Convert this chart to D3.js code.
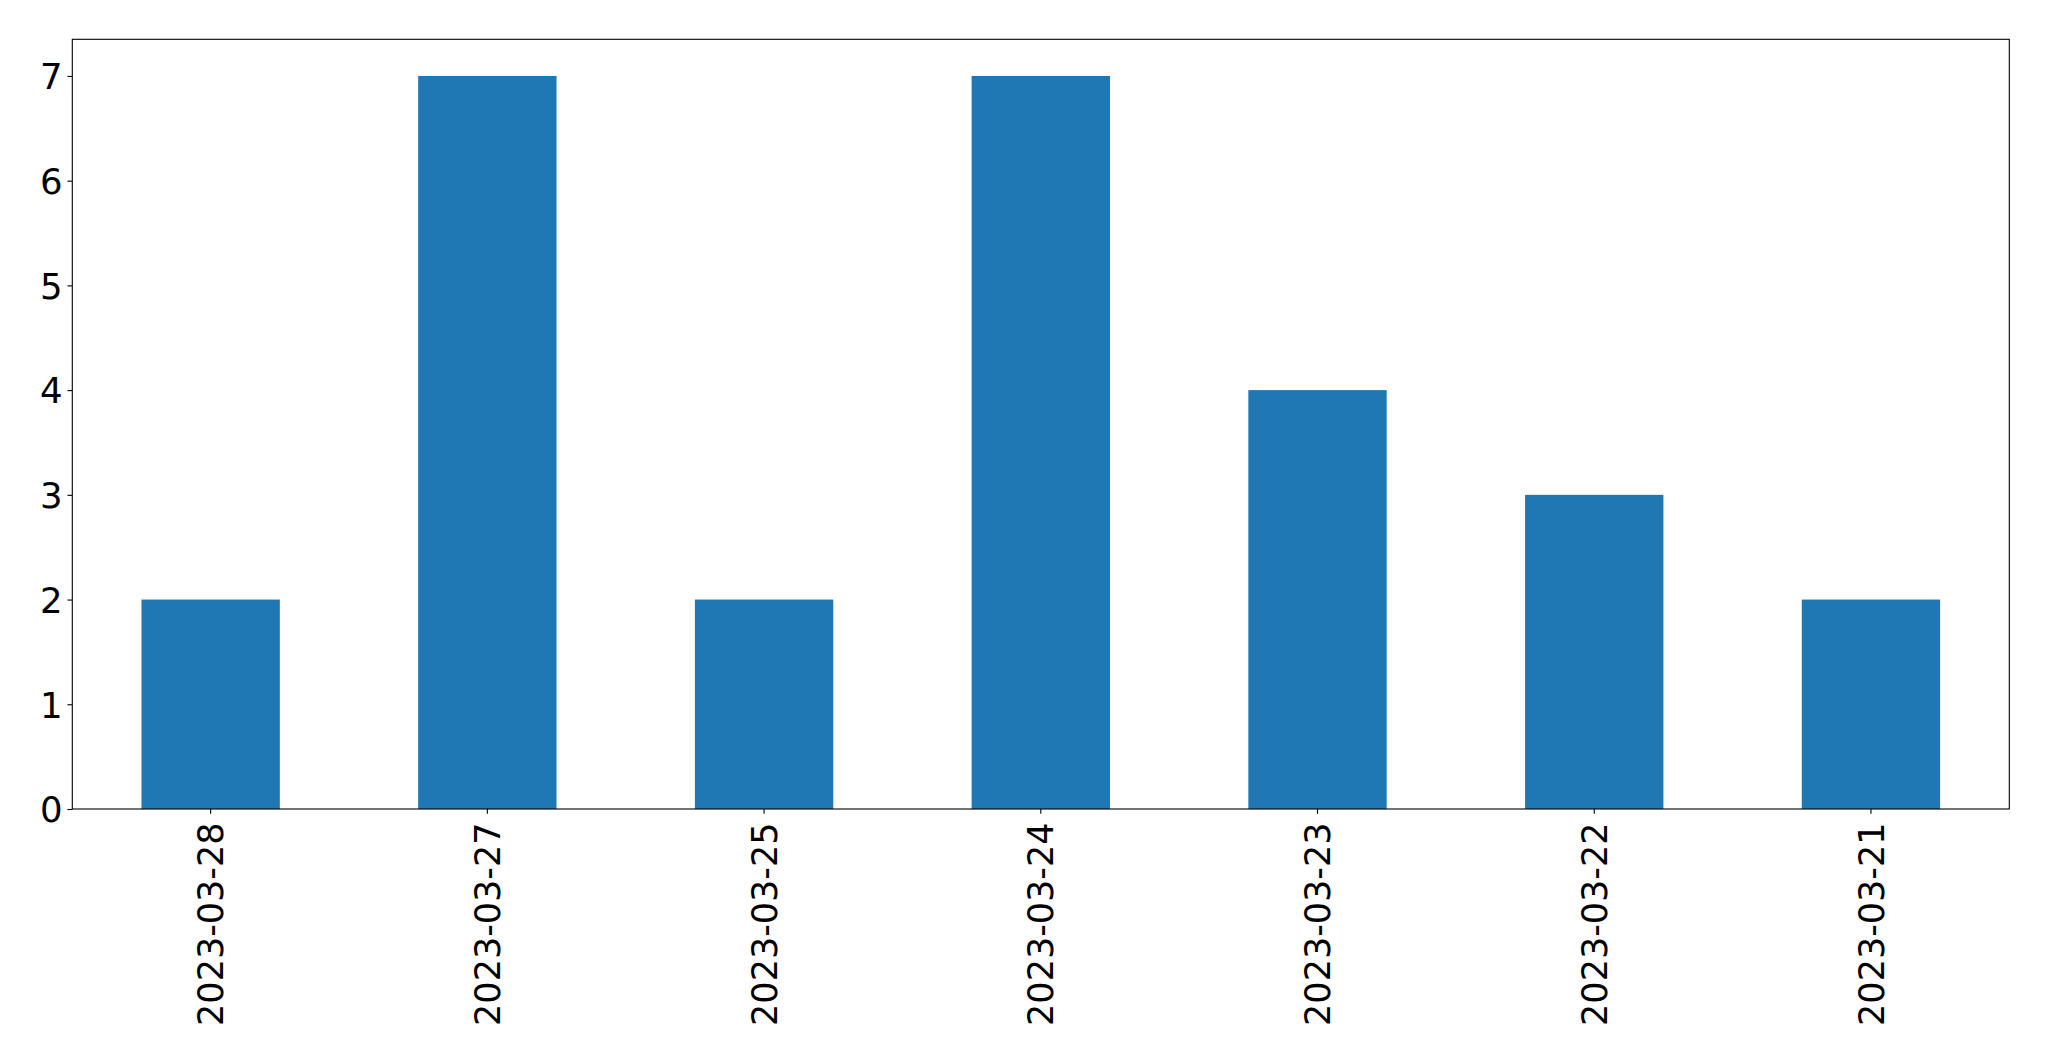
<!DOCTYPE html>
<html><head><meta charset="utf-8">
<script src="https://cdn.jsdelivr.net/npm/d3@7"></script>
<style>body{margin:0;background:#fff}svg{display:block}</style>
</head><body>
<script>
const categories = ["2023-03-28","2023-03-27","2023-03-25","2023-03-24","2023-03-23","2023-03-22","2023-03-21"];
const values = [2,7,2,7,4,3,2];
const yTicks = [0,1,2,3,4,5,6,7];

const W = 2049, H = 1061;
const m = {left:72.3, top:39.3, right:2049-2009.3, bottom:1061-809};
const iw = W - m.left - m.right, ih = H - m.top - m.bottom;
const svg = d3.select("body").append("svg").attr("width",W).attr("height",H);
const g = svg.append("g").attr("transform",`translate(${m.left},${m.top})`);

const x = d3.scaleBand().domain(categories).range([0,iw]).paddingInner(0.5).paddingOuter(0.25);
const y = d3.scaleLinear().domain([0, 7*1.05]).range([ih,0]);

g.selectAll("rect.bar").data(values).join("rect").attr("class","bar")
 .attr("x",(d,i)=>x(categories[i])).attr("width",x.bandwidth())
 .attr("y",d=>y(d)).attr("height",d=>ih-y(d)).attr("fill","#1f77b4");

const font = "DejaVu Sans";
const yAxis = g.append("g").call(d3.axisLeft(y).tickValues(yTicks).tickFormat(d3.format("d")).tickSize(4.86).tickPadding(4.86));
yAxis.select(".domain").remove();
yAxis.selectAll("line").attr("stroke","#000").attr("stroke-width",1.1);
yAxis.selectAll("text").attr("font-family",font).attr("font-size","35.5px").attr("fill","#000").attr("dy","0.36em");

const xAxis = g.append("g").attr("transform",`translate(0,${ih})`).call(d3.axisBottom(x).tickSize(4.86).tickPadding(4.86));
xAxis.select(".domain").remove();
xAxis.selectAll("line").attr("stroke","#000").attr("stroke-width",1.1);
xAxis.selectAll("text").attr("font-family",font).attr("font-size","35px").attr("fill","#000")
 .attr("text-anchor","end").attr("transform","rotate(-90)").attr("x",-13.5).attr("y",0).attr("dy","0.36em");

g.append("rect").attr("x",0).attr("y",0).attr("width",iw).attr("height",ih)
 .attr("fill","none").attr("stroke","#000").attr("stroke-width",1.1);
</script>
</body></html>
